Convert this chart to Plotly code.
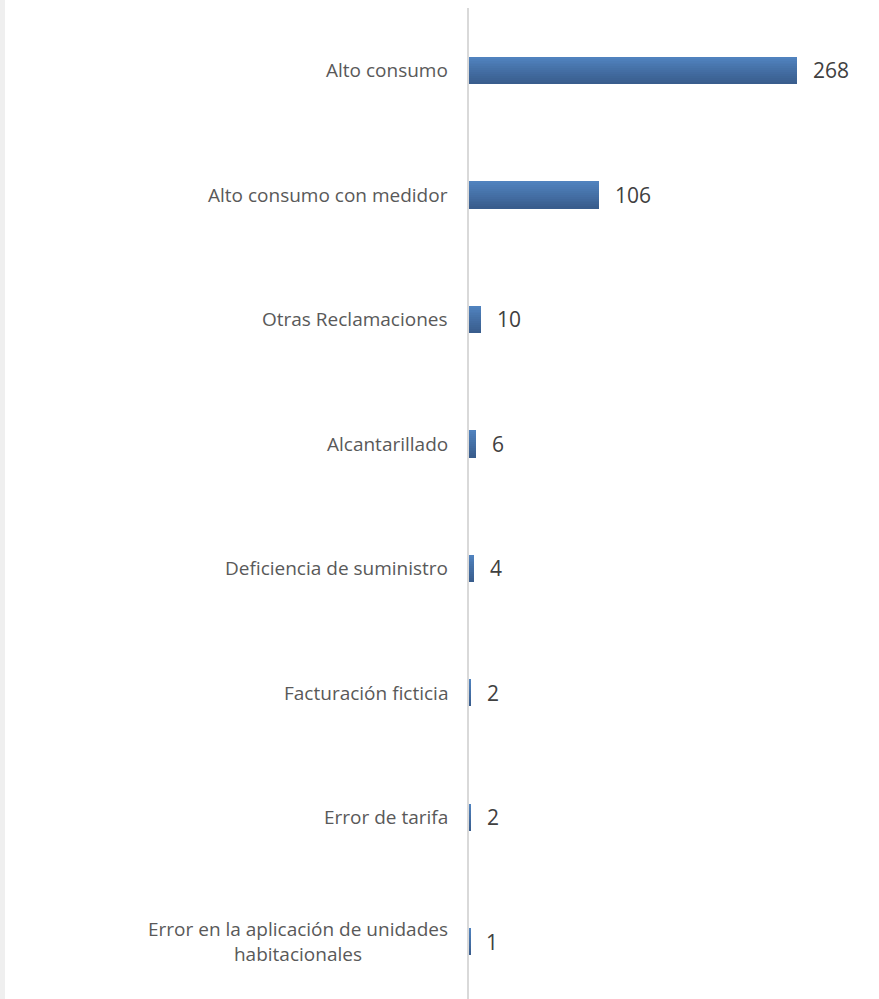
import plotly.graph_objects as go

categories = [
    "Alto consumo",
    "Alto consumo con medidor",
    "Otras Reclamaciones",
    "Alcantarillado",
    "Deficiencia de suministro",
    "Facturación ficticia",
    "Error de tarifa",
    "Error en la aplicación de unidades<br>habitacionales",
]
values = [268, 106, 10, 6, 4, 2, 2, 1]

FONT = "'Open Sans', Lato, sans-serif"
LABEL_COLOR = "#595959"
VALUE_COLOR = "#404040"

# vertical gradient for the bars, light at the top to dark at the bottom
top_rgb = (80, 130, 190)
bot_rgb = (57, 93, 141)
n_layers = 14
bar_w = 0.217

fig = go.Figure()
for i in range(n_layers):
    t = i / (n_layers - 1)
    rgb = tuple(round(a + (b - a) * t) for a, b in zip(top_rgb, bot_rgb))
    fig.add_trace(go.Bar(
        x=values,
        y=categories,
        orientation="h",
        width=bar_w / n_layers + 0.002,
        offset=-bar_w / 2 + i * bar_w / n_layers,
        marker=dict(color="rgb(%d,%d,%d)" % rgb, line=dict(width=0)),
        hoverinfo="skip",
        showlegend=False,
    ))

# category labels (centered block, right-anchored to the axis)
for c in categories:
    fig.add_annotation(
        x=0, y=c, xref="x", yref="y", text=c, showarrow=False,
        xanchor="right", yanchor="middle", align="center", xshift=-19,
        font=dict(family=FONT, size=19, color=LABEL_COLOR),
    )

# value labels
for c, v in zip(categories, values):
    fig.add_annotation(
        x=v, y=c, xref="x", yref="y", text=str(v), showarrow=False,
        xanchor="left", yanchor="middle", xshift=14,
        font=dict(family=FONT, size=21, color=VALUE_COLOR),
    )

# thin grey strip along the left edge of the page
fig.add_shape(type="rect", xref="paper", yref="paper",
              x0=-469 / 410, x1=-464 / 410, y0=-0.05, y1=1.05,
              fillcolor="#efefef", line=dict(width=0), layer="below")

fig.update_layout(
    width=879, height=999,
    margin=dict(l=469, r=0, t=8, b=0),
    paper_bgcolor="white", plot_bgcolor="white",
    barmode="overlay",
    bargap=0,
    xaxis=dict(range=[0, 335], visible=False, fixedrange=True),
    yaxis=dict(
        type="category",
        categoryorder="array", categoryarray=categories,
        range=[7.46, -0.5],
        showticklabels=False, showgrid=False, zeroline=False,
        showline=True, linecolor="#d9d9d9", linewidth=2,
    ),
)

fig.write_html("out.html")
